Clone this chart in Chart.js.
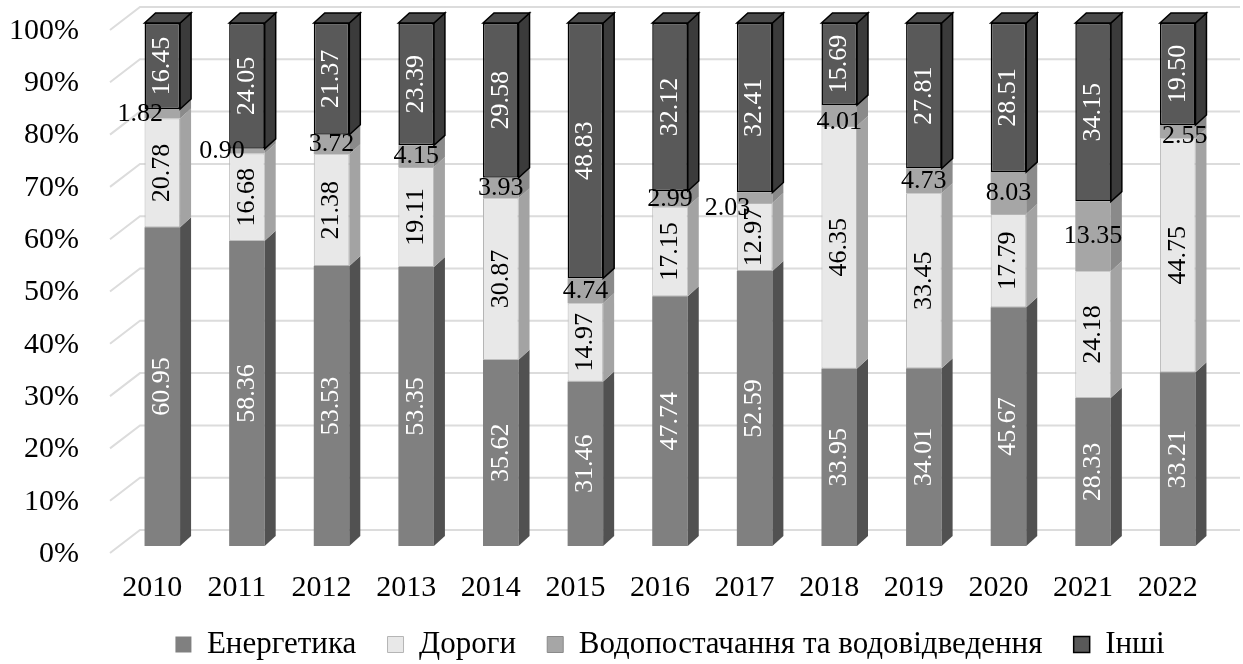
<!DOCTYPE html>
<html lang="uk">
<head>
<meta charset="utf-8">
<title>Структура за галузями, %</title>
<script src="https://cdn.jsdelivr.net/npm/chart.js@4.4.1/dist/chart.umd.min.js"></script>
<style>
  html, body { margin: 0; padding: 0; background: #fff; }
  #wrap { width: 1243px; height: 664px; }
</style>
</head>
<body>
<div id="wrap"><canvas id="chart" width="1243" height="664"></canvas></div>
<script>
// Дані (частки, %)
var years = ["2010", "2011", "2012", "2013", "2014", "2015", "2016", "2017", "2018", "2019", "2020", "2021", "2022"];
var seriesNames = ["Енергетика", "Дороги", "Водопостачання та водовідведення", "Інші"];
var energy = [60.95, 58.36, 53.53, 53.35, 35.62, 31.46, 47.74, 52.59, 33.95, 34.01, 45.67, 28.33, 33.21];
var roads  = [20.78, 16.68, 21.38, 19.11, 30.87, 14.97, 17.15, 12.97, 46.35, 33.45, 17.79, 24.18, 44.75];
var water  = [1.82, 0.90, 3.72, 4.15, 3.93, 4.74, 2.99, 2.03, 4.01, 4.73, 8.03, 13.35, 2.55];
var other  = [16.45, 24.05, 21.37, 23.39, 29.58, 48.83, 32.12, 32.41, 15.69, 27.81, 28.51, 34.15, 19.50];

// кольори: передня грань, бокова грань, колір підпису
var frontColors = ["#808080", "#e8e8e8", "#a6a6a6", "#595959"];
var sideColors  = ["#515151", "#a3a3a3", "#8a8a8a", "#3b3b3b"];
var labelColors = ["#ffffff", "#000000", "#000000", "#ffffff"];

var FONT = "'Liberation Serif', 'Times New Roman', serif";
Chart.defaults.font.family = FONT;
Chart.defaults.color = "#000";

// глибина 3D-стовпчика
var DX = 11, DY = -10;

// зсув підписей "Водопостачання" (як в оригіналі, щоб не налазили)
var waterLabelShift = { "2010": [-22, 0], "2011": [-25, 0], "2017": [-27, 10], "2018": [0, 7], "2022": [7, 5] };

var faces3d = {
  id: "faces3d",
  beforeDatasetsDraw: function (chart) {
    // сітка на задній стінці + похилі лінії від осі
    var ctx = chart.ctx, ys = chart.scales.y, area = chart.chartArea;
    ctx.save();
    ctx.strokeStyle = "#dcdcdc";
    ctx.lineWidth = 2;
    ys.ticks.forEach(function (t) {
      var y = ys.getPixelForValue(t.value);
      ctx.beginPath();
      ctx.moveTo(area.left - 10, y + 7);
      ctx.lineTo(area.left + 20, y - 16);
      ctx.lineTo(area.right + 20, y - 16);
      ctx.stroke();
    });
    ctx.restore();
  },
  afterDatasetsDraw: function (chart) {
    var ctx = chart.ctx;
    var n = chart.data.datasets.length;
    ctx.save();
    // бокові та верхні грані
    for (var d = 0; d < n; d++) {
      var meta = chart.getDatasetMeta(d);
      meta.data.forEach(function (bar) {
        var p = bar.getProps(["x", "y", "base", "width"], true);
        var left = p.x - p.width / 2, right = p.x + p.width / 2;
        ctx.beginPath();
        ctx.moveTo(right, p.y);
        ctx.lineTo(right + DX, p.y + DY);
        ctx.lineTo(right + DX, p.base + DY);
        ctx.lineTo(right, p.base);
        ctx.closePath();
        ctx.fillStyle = sideColors[d];
        ctx.fill();
        if (d === n - 1) {
          ctx.strokeStyle = "#000";
          ctx.lineWidth = 1.5;
          ctx.stroke();
          ctx.beginPath();
          ctx.moveTo(left, p.y);
          ctx.lineTo(left + DX, p.y + DY);
          ctx.lineTo(right + DX, p.y + DY);
          ctx.lineTo(right, p.y);
          ctx.closePath();
          ctx.fillStyle = "#4a4a4a";
          ctx.fill();
          ctx.stroke();
        }
      });
    }
    // підписи значень
    ctx.font = "26px " + FONT;
    ctx.textAlign = "center";
    ctx.textBaseline = "middle";
    for (var k = 0; k < n; k++) {
      var m = chart.getDatasetMeta(k);
      var vals = chart.data.datasets[k].data;
      m.data.forEach(function (bar, i) {
        var p = bar.getProps(["x", "y", "base"], true);
        var cy = (p.y + p.base) / 2;
        var txt = vals[i].toFixed(2);
        ctx.fillStyle = labelColors[k];
        if (k === 2) {
          var s = waterLabelShift[years[i]] || [0, 0];
          ctx.fillText(txt, p.x + s[0], cy + s[1]);
        } else {
          ctx.save();
          ctx.translate(p.x, cy);
          ctx.rotate(-Math.PI / 2);
          ctx.fillText(txt, 0, 0);
          ctx.restore();
        }
      });
    }
    ctx.restore();
  }
};

var datasets = [energy, roads, water, other].map(function (vals, i) {
  return {
    label: seriesNames[i],
    data: vals,
    backgroundColor: frontColors[i],
    borderColor: i === 3 ? "#000000" : (i === 1 ? "#b5b5b5" : frontColors[i]),
    borderWidth: i === 3 ? 1.5 : (i === 1 ? 1 : 0),
    borderSkipped: false,
    barPercentage: 0.42,
    categoryPercentage: 1,
    clip: false
  };
});

new Chart(document.getElementById("chart"), {
  type: "bar",
  data: { labels: years, datasets: datasets },
  options: {
    responsive: false,
    animation: false,
    layout: { padding: { top: 23, right: 23, left: 0, bottom: -6 } },
    plugins: {
      tooltip: { enabled: false },
      legend: {
        position: "bottom",
        fullSize: false,
        labels: {
          color: "#000",
          font: { size: 31 },
          boxWidth: 16,
          boxHeight: 16,
          padding: 8,
          generateLabels: function (chart) {
            var items = Chart.defaults.plugins.legend.labels.generateLabels(chart);
            items.forEach(function (it, i) {
              if (i < items.length - 1) it.text = it.text + "   ";
              if (i === 2) { it.strokeStyle = "#8a8a8a"; it.lineWidth = 1; }
            });
            return items;
          }
        }
      }
    },
    scales: {
      x: {
        stacked: true,
        grid: { display: false, drawTicks: false },
        border: { display: false },
        ticks: { color: "#000", font: { size: 30 }, padding: 24, labelOffset: -10, maxRotation: 0, autoSkip: false },
        afterFit: function (s) { s.height = 75; s.paddingLeft = 0; s.paddingRight = 0; }
      },
      y: {
        stacked: true,
        min: 0,
        max: 100,
        grid: { display: false, drawTicks: false },
        border: { display: false },
        ticks: {
          stepSize: 10,
          color: "#000",
          font: { size: 30 },
          padding: 41,
          labelOffset: 8,
          callback: function (v) { return v + "%"; }
        },
        afterFit: function (s) { s.width = 120; s.paddingTop = 0; s.paddingBottom = 0; }
      }
    }
  },
  plugins: [faces3d]
});
</script>
</body>
</html>
